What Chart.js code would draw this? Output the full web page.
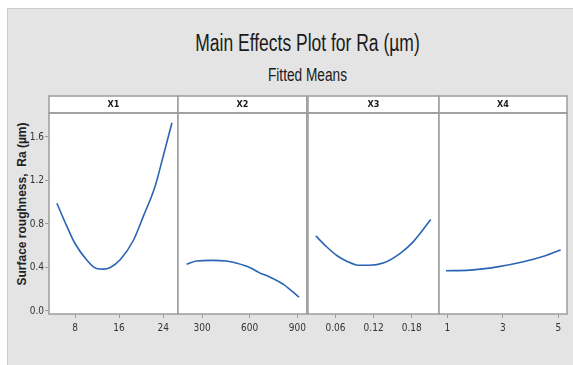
<!DOCTYPE html>
<html>
<head>
<meta charset="utf-8">
<script src="https://cdn.jsdelivr.net/npm/chart.js@4"></script>
<style>
  html, body { margin: 0; padding: 0; background: #fff; }
  body { width: 573px; height: 365px; position: relative; overflow: hidden; }
  #frame {
    position: absolute; left: 7px; top: 8px; width: 566px; height: 357px;
    background: #e4e4e4; border-left: 1px solid #cdcdcd; border-top: 1px solid #cdcdcd;
  }
  .txt {
    position: absolute; left: 0; width: 573px; text-align: center; color: #1a1a1a;
    font-family: "Liberation Sans", Arial, sans-serif;
    line-height: 1; white-space: nowrap;
  }
  #title { top: 32px; font-size: 23px; margin-left: 21px; transform: scaleX(0.76); }
  #sub { top: 66px; font-size: 18px; margin-left: 21px; transform: scaleX(0.76); }
  #ytitle {
    position: absolute; left: 22px; top: 204px; width: 200px; margin-left: -100px; margin-top: -7px;
    text-align: center; font: bold 12px "Liberation Sans", Arial, sans-serif; color: #222;
    line-height: 14px; white-space: pre; transform: rotate(-90deg);
  }
  canvas { position: absolute; }
</style>
</head>
<body>
<div id="frame"></div>
<div class="txt" id="title">Main Effects Plot for Ra (µm)</div>
<div class="txt" id="sub">Fitted Means</div>
<div id="ytitle">Surface roughness,  Ra (µm)</div>
<canvas id="c0"></canvas>
<canvas id="c1"></canvas>
<canvas id="c2"></canvas>
<canvas id="c3"></canvas>
<script>
// factor names shown in the strip above each panel
const factors = ["X1", "X2", "X3", "X4"];

// fitted means
const x1Vals = [4.7, 6.5, 8, 10.1, 11.9, 13.2, 14.4, 16.2, 18.6, 20.4, 22.5, 24, 25.6];
const ra1Vals = [0.99, 0.78, 0.62, 0.47, 0.39, 0.385, 0.40, 0.47, 0.65, 0.87, 1.14, 1.42, 1.73];

const x2Vals = [202, 265, 360, 452, 515, 600, 662, 723, 817, 911];
const ra2Vals = [0.43, 0.46, 0.465, 0.46, 0.44, 0.40, 0.35, 0.315, 0.24, 0.126];

const x3Vals = [0.029, 0.046, 0.062, 0.077, 0.096, 0.114, 0.135, 0.162, 0.183, 0.21];
const ra3Vals = [0.69, 0.59, 0.51, 0.46, 0.42, 0.42, 0.44, 0.53, 0.64, 0.84];

const x4Vals = [0.95, 1.8, 2.8, 3.7, 4.5, 5.08];
const ra4Vals = [0.37, 0.375, 0.405, 0.45, 0.505, 0.56];

// tick labels
const yTicks = [0.0, 0.4, 0.8, 1.2, 1.6];
const x1Ticks = [8, 16, 24];
const x2Ticks = [300, 600, 900];
const x3Ticks = [0.06, 0.12, 0.18];
const x4Ticks = [1, 3, 5];

const xs = [x1Vals, x2Vals, x3Vals, x4Vals];
const ys = [ra1Vals, ra2Vals, ra3Vals, ra4Vals];
const xTicks = [x1Ticks, x2Ticks, x3Ticks, x4Ticks];
const xRanges = [[3.27, 26.7], [148, 960], [0.0167, 0.223], [0.70, 5.31]];
const xDecimals = [0, 0, 2, 0];

const edges = [49, 178, 308, 439, 567];
const TOP = 95, BOTTOM = 340, STRIP = 18;
const tickFont = { family: "'DejaVu Sans Condensed', 'Liberation Sans', sans-serif", size: 10 };
const frameColor = "#9c9c9c";

const panelPlugin = {
  id: "panel",
  beforeDraw(chart) {
    const a = chart.chartArea, ctx = chart.ctx;
    ctx.save();
    ctx.fillStyle = "#fff";
    ctx.fillRect(a.left, a.top, a.right - a.left, a.bottom - a.top);
    ctx.restore();
  },
  afterDraw(chart, args, opts) {
    const a = chart.chartArea, ctx = chart.ctx;
    ctx.save();
    ctx.fillStyle = "#fff";
    ctx.fillRect(a.left, 1, a.right - a.left, STRIP - 1);
    ctx.strokeStyle = frameColor;
    ctx.lineWidth = 1.5;
    ctx.strokeRect(a.left, 1, a.right - a.left, STRIP - 1);
    ctx.strokeRect(a.left, a.top, a.right - a.left, a.bottom - a.top);
    ctx.fillStyle = "#1a1a1a";
    ctx.font = "bold 9px 'DejaVu Sans Condensed', 'Liberation Sans', sans-serif";
    ctx.textAlign = "center";
    ctx.textBaseline = "middle";
    ctx.fillText(opts.label, (a.left + a.right) / 2, 1 + (STRIP - 1) / 2);
    ctx.restore();
  }
};

factors.forEach(function (name, i) {
  const canvas = document.getElementById("c" + i);
  const left = i === 0 ? 0 : edges[i] - 1;
  const width = edges[i + 1] - left + 2;
  canvas.width = width;
  canvas.height = BOTTOM - TOP;
  canvas.style.left = left + "px";
  canvas.style.top = TOP + "px";

  const pts = xs[i].map(function (x, k) { return { x: x, y: ys[i][k] }; });

  new Chart(canvas.getContext("2d"), {
    type: "line",
    data: {
      datasets: [{
        data: pts,
        borderColor: "#2a64b4",
        borderWidth: 1.6,
        pointRadius: 0,
        cubicInterpolationMode: "monotone",
        fill: false,
      }],
    },
    options: {
      responsive: false,
      animation: false,
      layout: { padding: { top: STRIP, left: i === 0 ? 0 : 1, right: 2, bottom: 0 } },
      plugins: {
        legend: { display: false },
        tooltip: { enabled: false },
        panel: { label: name },
      },
      scales: {
        x: {
          type: "linear",
          min: xRanges[i][0],
          max: xRanges[i][1],
          afterBuildTicks: function (s) { s.ticks = xTicks[i].map(function (v) { return { value: v }; }); },
          afterFit: function (s) { s.height = 26; },
          ticks: {
            color: "#333",
            font: tickFont,
            padding: 4,
            maxRotation: 0,
            autoSkip: false,
            callback: function (v) { return Number(v).toFixed(xDecimals[i]); },
          },
          grid: { drawOnChartArea: false, drawTicks: true, tickLength: 4, color: frameColor },
          border: { display: false },
        },
        y: {
          display: i === 0,
          min: -0.028,
          max: 1.82,
          afterBuildTicks: function (s) { s.ticks = yTicks.map(function (v) { return { value: v }; }); },
          afterFit: function (s) { s.width = i === 0 ? edges[0] : 0; },
          ticks: {
            color: "#333",
            font: tickFont,
            padding: 1,
            autoSkip: false,
            callback: function (v) { return Number(v).toFixed(1); },
          },
          grid: { drawOnChartArea: false, drawTicks: true, tickLength: 4, color: frameColor },
          border: { display: false },
        },
      },
    },
    plugins: [panelPlugin],
  });
});
</script>
</body>
</html>
